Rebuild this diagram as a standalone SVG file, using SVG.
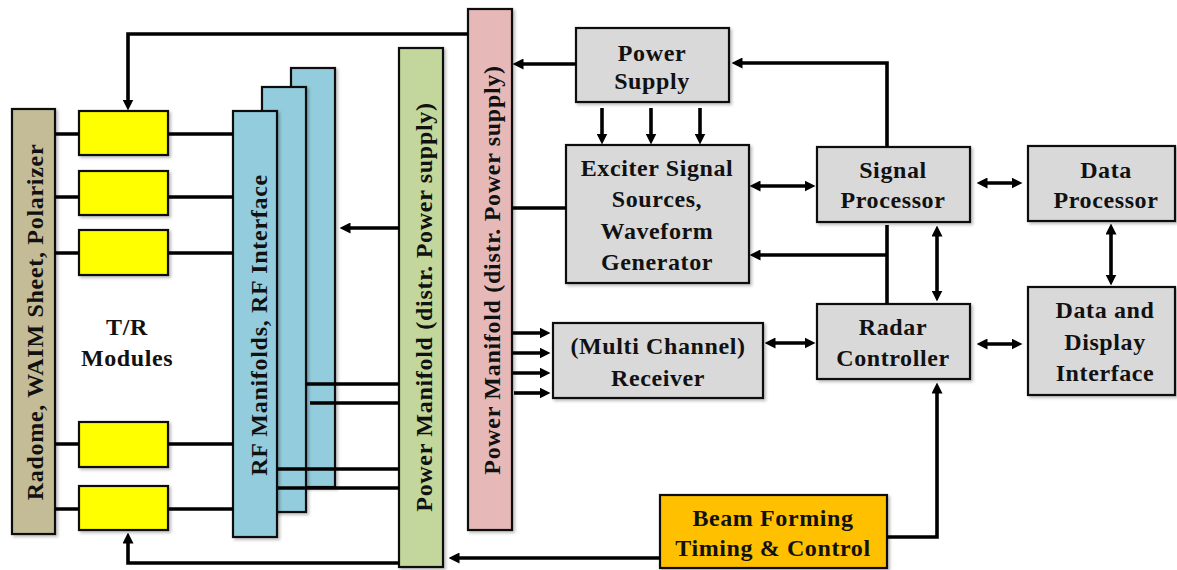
<svg xmlns="http://www.w3.org/2000/svg" width="1177" height="570" viewBox="0 0 1177 570" font-family="'Liberation Serif', 'DejaVu Serif', serif">
<style>
text{font-family:'Liberation Serif','DejaVu Serif',serif}
.t{font-weight:bold;font-size:24px;letter-spacing:0.6px;fill:#111;text-anchor:middle}
.v{letter-spacing:0.7px}
.b{stroke:#111;stroke-width:2.2}
.grey{fill:#D9D9D9}
.c{fill:none;stroke:#000;stroke-width:3.6;stroke-linecap:butt}
.a{marker-end:url(#ah)}
.aa{marker-end:url(#ah);marker-start:url(#ah)}
</style>
<defs>
<marker id="ah" viewBox="0 0 10 10" markerUnits="userSpaceOnUse" markerWidth="11" markerHeight="11" refX="5" refY="5" orient="auto-start-reverse">
<path d="M0,0 L10,5 L0,10 z" fill="#000"/>
</marker>
<filter id="sh" x="-10%" y="-10%" width="130%" height="130%">
<feDropShadow dx="2" dy="2" stdDeviation="1.5" flood-color="#000" flood-opacity="0.25"/>
</filter>
</defs>

<g id="radome">
<rect class="b" x="12" y="109" width="43" height="425" fill="#C4BC96" filter="url(#sh)"/>
<text class="t v" font-family="'Liberation Serif', serif" transform="translate(43,322) rotate(-90)">Radome, WAIM Sheet, Polarizer</text>
</g>

<g id="tr-modules">
<rect class="b" x="79" y="111" width="89" height="44" fill="#FFFF00" filter="url(#sh)"/>
<rect class="b" x="79" y="171" width="89" height="44" fill="#FFFF00" filter="url(#sh)"/>
<rect class="b" x="79" y="230" width="89" height="45" fill="#FFFF00" filter="url(#sh)"/>
<rect class="b" x="79" y="422" width="89" height="45" fill="#FFFF00" filter="url(#sh)"/>
<rect class="b" x="79" y="486" width="89" height="44" fill="#FFFF00" filter="url(#sh)"/>
<text class="t" x="127" y="335">T/R</text>
<text class="t" x="127" y="366">Modules</text>
</g>

<g id="rf-manifolds">
<rect class="b" x="291" y="68" width="44" height="419" fill="#93CDDD" filter="url(#sh)"/>
<rect class="b" x="262" y="87" width="44" height="425" fill="#93CDDD" filter="url(#sh)"/>
<rect class="b" x="233" y="111" width="44" height="426" fill="#93CDDD" filter="url(#sh)"/>
<text class="t v" transform="translate(267,325) rotate(-90)">RF Manifolds, RF Interface</text>
</g>

<g id="power-manifold-green">
<rect class="b" x="399" y="48" width="44" height="519" fill="#C3D69B" filter="url(#sh)"/>
<text class="t v" transform="translate(432,307) rotate(-90)">Power Manifold (distr. Power supply)</text>
</g>

<g id="power-manifold-pink">
<rect class="b" x="468" y="9" width="44" height="521" fill="#E6B9B8" filter="url(#sh)"/>
<text class="t v" transform="translate(500,270) rotate(-90)">Power Manifold (distr. Power supply)</text>
</g>

<g id="power-supply">
<rect class="b grey" x="576" y="28" width="153" height="74" filter="url(#sh)"/>
<text class="t" x="652" y="61">Power</text>
<text class="t" x="652" y="89">Supply</text>
</g>

<g id="exciter">
<rect class="b grey" x="566" y="145" width="183" height="138" filter="url(#sh)"/>
<text class="t" x="657" y="176">Exciter Signal</text>
<text class="t" x="657" y="207">Sources,</text>
<text class="t" x="657" y="239">Waveform</text>
<text class="t" x="657" y="270">Generator</text>
</g>

<g id="receiver">
<rect class="b grey" x="553" y="323" width="210" height="75" filter="url(#sh)"/>
<text class="t" x="658" y="354">(Multi Channel)</text>
<text class="t" x="658" y="386">Receiver</text>
</g>

<g id="signal-processor">
<rect class="b grey" x="817" y="147" width="153" height="75" filter="url(#sh)"/>
<text class="t" x="893" y="178">Signal</text>
<text class="t" x="893" y="208">Processor</text>
</g>

<g id="data-processor">
<rect class="b grey" x="1028" y="146" width="147" height="75" filter="url(#sh)"/>
<text class="t" x="1106" y="178">Data</text>
<text class="t" x="1106" y="208">Processor</text>
</g>

<g id="radar-controller">
<rect class="b grey" x="817" y="304" width="153" height="75" filter="url(#sh)"/>
<text class="t" x="893" y="335">Radar</text>
<text class="t" x="893" y="366">Controller</text>
</g>

<g id="data-display">
<rect class="b grey" x="1028" y="287" width="147" height="108" filter="url(#sh)"/>
<text class="t" x="1105" y="318">Data and</text>
<text class="t" x="1105" y="350">Display</text>
<text class="t" x="1105" y="381">Interface</text>
</g>

<g id="beam-forming">
<rect class="b" x="660" y="495" width="227" height="73" fill="#FFC000" filter="url(#sh)"/>
<text class="t" x="773" y="526">Beam Forming</text>
<text class="t" x="773" y="556">Timing &amp; Control</text>
</g>

<g id="connectors">
<path class="c" d="M55,134 H79 M168,134 H233 M55,197 H79 M168,197 H233 M55,253 H79 M168,253 H233 M55,444 H79 M168,444 H233 M55,509 H79 M168,509 H233"/>
<path class="c a" d="M468,34 H128 V105"/>
<path class="c a" d="M399,563 H128 V538"/>
<path class="c a" d="M399,228 H345"/>
<path class="c" d="M306,384 H399 M310,403 H399 M277,469 H399 M278,488 H399"/>
<path class="c a" d="M576,64 H518"/>
<path class="c a" d="M602,108 V139"/>
<path class="c a" d="M651,108 V139"/>
<path class="c a" d="M700,108 V139"/>
<path class="c" d="M512,208 H566"/>
<path class="c a" d="M512,333 H545"/>
<path class="c a" d="M512,353 H545"/>
<path class="c a" d="M512,373 H545"/>
<path class="c a" d="M514,393 H545"/>
<path class="c a" d="M887,147 V63 H737"/>
<path class="c aa" d="M755,186 H810"/>
<path class="c" d="M887,225 V304"/>
<path class="c a" d="M887,255 H755"/>
<path class="c aa" d="M937,231 V296"/>
<path class="c aa" d="M982,183 H1017"/>
<path class="c aa" d="M1111,229 V280"/>
<path class="c aa" d="M770,343 H810"/>
<path class="c aa" d="M982,344 H1017"/>
<path class="c a" d="M887,537 H937 V388"/>
<path class="c a" d="M660,558 H454"/>
</g>
</svg>
